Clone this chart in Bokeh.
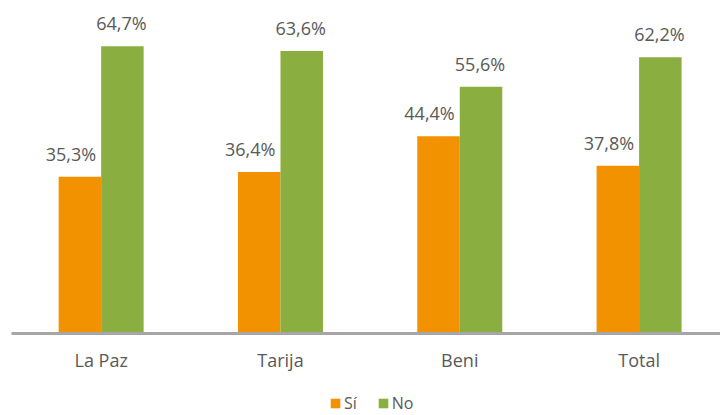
import numpy as np
from bokeh.plotting import figure
from bokeh.layouts import column
from bokeh.models import ColumnDataSource, Range1d, FixedTicker, Legend, LegendItem
from bokeh.core.properties import value
from bokeh.embed import file_html
from bokeh.resources import INLINE

categories = ["La Paz", "Tarija", "Beni", "Total"]
si_values = [35.3, 36.4, 44.4, 37.8]
no_values = [64.7, 63.6, 55.6, 62.2]
series_names = ["Sí", "No"]

ORANGE = "#F39200"
GREEN = "#8AAE3F"
TEXT = "#595959"
FONT = "Open Sans"

def fmt(v):
    return f"{v:.1f}".replace(".", ",") + "%"

idx = np.arange(len(categories)) + 0.5
bw = 0.237
off = 0.1185

src_si = ColumnDataSource(dict(x=idx - off, top=si_values, label=[fmt(v) for v in si_values]))
src_no = ColumnDataSource(dict(x=idx + off, top=no_values, label=[fmt(v) for v in no_values]))

p = figure(width=720, height=385, output_backend="svg", toolbar_location=None,
           x_range=Range1d(0, 3.954), y_range=Range1d(0, 75.0),
           min_border_left=11, min_border_right=0, min_border_top=0, min_border_bottom=52)
p.outline_line_color = None
p.xgrid.visible = False
p.ygrid.visible = False
p.yaxis.visible = False

p.vbar(x="x", top="top", width=bw, source=src_si, fill_color=ORANGE, line_color=None)
p.vbar(x="x", top="top", width=bw, source=src_no, fill_color=GREEN, line_color=None)

p.text(x="x", y="top", text="label", source=src_si, text_align="center", text_baseline="alphabetic",
       x_offset=-9, y_offset=-23, text_font=value(FONT), text_font_size="18px", text_color=TEXT)
p.text(x="x", y="top", text="label", source=src_no, text_align="center", text_baseline="alphabetic",
       x_offset=-1, y_offset=-23, text_font=value(FONT), text_font_size="18px", text_color=TEXT)

ax = p.xaxis[0]
ax.ticker = FixedTicker(ticks=list(idx))
ax.major_label_overrides = {float(i): c for i, c in zip(idx, categories)}
ax.major_tick_line_color = None
ax.minor_tick_line_color = None
ax.major_tick_out = 0
ax.major_tick_in = 0
ax.axis_line_color = "#A6A6A6"
ax.axis_line_width = 3
ax.major_label_standoff = 14
ax.major_label_text_font = FONT
ax.major_label_text_font_size = "18px"
ax.major_label_text_color = TEXT

# legend strip (its ranges keep the key renderers' bars out of view)
pl = figure(width=720, height=30, output_backend="svg", toolbar_location=None,
            x_range=Range1d(-3, -2), y_range=Range1d(0, 1),
            min_border_left=0, min_border_right=0, min_border_top=0, min_border_bottom=0)
pl.outline_line_color = None
pl.axis.visible = False
pl.grid.visible = False
d1 = pl.vbar(x="x", top="top", width=bw, source=src_si, fill_color=ORANGE, line_color=None)
d2 = pl.vbar(x="x", top="top", width=bw, source=src_no, fill_color=GREEN, line_color=None)

legend = Legend(items=[LegendItem(label=series_names[0], renderers=[d1], index=0),
                       LegendItem(label=series_names[1], renderers=[d2], index=0)],
                orientation="horizontal", location=(318, 1),
                glyph_width=12, glyph_height=12, label_height=12, label_width=0, label_standoff=3,
                spacing=20, padding=0, margin=0,
                border_line_color=None, background_fill_alpha=0,
                label_text_font=FONT, label_text_font_size="16px", label_text_color=TEXT)
pl.add_layout(legend, "center")

open("out.html", "w").write(file_html(column(p, pl, spacing=0), INLINE))
